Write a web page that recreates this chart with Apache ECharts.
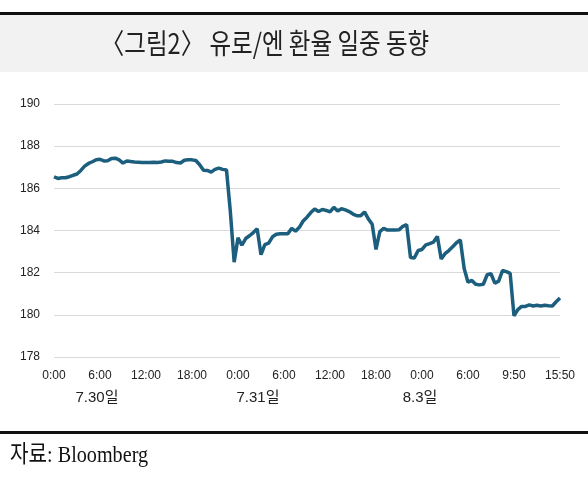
<!DOCTYPE html>
<html>
<head>
<meta charset="utf-8">
<title>유로/엔 환율 일중 동향</title>
<script src="https://cdn.jsdelivr.net/npm/echarts@6/dist/echarts.min.js"></script>
<style>
  html, body { margin: 0; padding: 0; background: #fff; }
  #main { width: 588px; height: 484px; }
</style>
</head>
<body>
<div id="main"></div>
<script>
// 눈금 라벨 (구간마다 12개 점)
var tickLabels = ['0:00', '6:00', '12:00', '18:00', '0:00', '6:00', '12:00', '18:00', '0:00', '6:00', '9:50', '15:50'];
var dayLabels = ['7.30일', '7.31일', '8.3일'];
var perTick = 12;

// 유로/엔 환율
var rates = [
  186.55, 186.47, 186.50, 186.50, 186.55, 186.62, 186.68, 186.85, 187.05, 187.18, 187.26, 187.36,
  187.38, 187.30, 187.31, 187.42, 187.43, 187.35, 187.20, 187.30, 187.27, 187.25, 187.24, 187.22,
  187.22, 187.22, 187.24, 187.23, 187.25, 187.30, 187.28, 187.28, 187.22, 187.20, 187.33, 187.36,
  187.35, 187.32, 187.12, 186.86, 186.85, 186.77, 186.90, 186.96, 186.90, 186.87, 184.90, 182.50,
  183.65, 183.30, 183.62, 183.75, 183.90, 184.08, 182.85, 183.33, 183.40, 183.70, 183.82, 183.85,
  183.85, 183.85, 184.10, 183.97, 184.15, 184.45, 184.63, 184.85, 185.02, 184.90, 185.00, 184.95,
  184.88, 185.10, 184.92, 185.03, 184.98, 184.90, 184.78, 184.70, 184.70, 184.88, 184.55, 184.30,
  183.10, 183.95, 184.10, 184.02, 184.02, 184.02, 184.03, 184.20, 184.28, 182.72, 182.70, 183.05,
  183.10, 183.32, 183.38, 183.45, 183.72, 182.65, 182.90, 183.05, 183.23, 183.42, 183.55, 182.20,
  181.55, 181.63, 181.45, 181.42, 181.45, 181.90, 181.95, 181.50, 181.60, 182.10, 182.05, 181.97,
  179.95, 180.25, 180.40, 180.40, 180.47, 180.42, 180.45, 180.42, 180.45, 180.43, 180.42, 180.62,
  180.80
];

// 카테고리: 눈금 위치에만 라벨
var cats = [];
for (var i = 0; i < rates.length; i++) {
    cats.push(i % perTick === 0 ? tickLabels[i / perTick] : '');
}

var myChart = echarts.init(document.getElementById('main'));

var option = {
    animation: false,
    grid: { left: 54, right: 28, top: 104, bottom: 127 },
    xAxis: {
        type: 'category',
        data: cats,
        boundaryGap: false,
        axisLine: { show: false },
        axisTick: { show: false },
        axisLabel: {
            interval: function (idx) { return idx % perTick === 0; },
            color: '#222',
            fontSize: 12,
            fontFamily: 'Liberation Sans',
            margin: 13
        }
    },
    yAxis: {
        type: 'value',
        min: 178,
        max: 190,
        interval: 2,
        axisLine: { show: false },
        axisTick: { show: false },
        axisLabel: { color: '#222', fontSize: 12, fontFamily: 'Liberation Sans', margin: 14 },
        splitLine: { lineStyle: { color: '#d9d9d9', width: 1 } }
    },
    series: [{
        type: 'line',
        data: rates,
        showSymbol: false,
        lineStyle: { color: '#1b5e7d', width: 3.5 },
        itemStyle: { color: '#1b5e7d' }
    }],
    graphic: [
        { type: 'rect', shape: { x: 0, y: 14, width: 588, height: 58 }, style: { fill: '#f2f2f2' }, z: -10 },
        { type: 'rect', shape: { x: 0, y: 12, width: 588, height: 3 }, style: { fill: '#111' } },
        { type: 'rect', shape: { x: 0, y: 431, width: 588, height: 3 }, style: { fill: '#111' } },
        {
            type: 'text', x: 265, y: 43, scaleX: 0.84,
            style: {
                text: '〈그림2〉 유로/엔 환율 일중 동향',
                font: '28px "Noto Sans CJK KR"', fill: '#222',
                textAlign: 'center', textVerticalAlign: 'middle'
            }
        },
        { type: 'text', x: 97, y: 398, style: { text: dayLabels[0], font: '15px "Liberation Sans", "Noto Sans CJK KR"', fill: '#222', textAlign: 'center', textVerticalAlign: 'middle' } },
        { type: 'text', x: 258, y: 398, style: { text: dayLabels[1], font: '15px "Liberation Sans", "Noto Sans CJK KR"', fill: '#222', textAlign: 'center', textVerticalAlign: 'middle' } },
        { type: 'text', x: 420, y: 398, style: { text: dayLabels[2], font: '15px "Liberation Sans", "Noto Sans CJK KR"', fill: '#222', textAlign: 'center', textVerticalAlign: 'middle' } },
        {
            type: 'text', x: 10, y: 456, scaleX: 0.84,
            style: {
                text: '자료: Bloomberg',
                font: '24px "Liberation Serif", "Noto Sans CJK KR"', fill: '#111',
                textAlign: 'left', textVerticalAlign: 'middle'
            }
        }
    ]
};

myChart.setOption(option);
</script>
</body>
</html>
